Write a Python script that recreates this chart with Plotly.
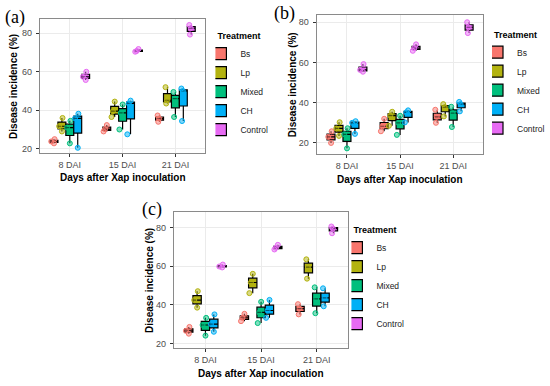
import plotly.graph_objects as go

# ---------------- data ----------------
days = ["8 DAI", "15 DAI", "21 DAI"]
treatments = ["Bs", "Lp", "Mixed", "CH", "Control"]
colors = ["#F8766D", "#B3B310", "#00BF7D", "#00B0F6", "#E76BF3"]
y_ticks = [20, 40, 60, 80]

# panel (a): replicate values per day (8, 15, 21 DAI)
a_bs = [[22.8, 23.8, 25.0], [29.0, 30.2, 32.3], [34.0, 35.7, 37.3]]
a_lp = [[29.0, 31.7, 36.0], [36.5, 39.5, 44.5], [43.5, 45.2, 52.0]]
a_mixed = [[22.8, 31.0, 34.5], [30.0, 38.6, 43.0], [36.5, 46.0, 49.5]]
a_ch = [[20.5, 35.8, 38.2], [27.5, 43.5, 45.0], [34.4, 50.0, 51.3]]
a_control = [[55.7, 57.4, 60.0], [70.4, 70.8, 71.8], [79.3, 82.6, 84.3]]

# panel (b)
b_bs = [[20.0, 23.0, 25.8], [25.8, 28.3, 32.0], [30.0, 33.0, 36.5]]
b_lp = [[23.5, 27.2, 30.3], [28.5, 33.6, 35.5], [33.2, 37.8, 39.3]]
b_mixed = [[17.3, 24.3, 27.3], [24.0, 30.0, 33.5], [27.9, 34.8, 38.0]]
b_ch = [[24.5, 30.0, 30.8], [30.2, 35.2, 36.2], [35.7, 39.3, 40.4]]
b_control = [[55.4, 56.3, 59.2], [65.8, 67.1, 69.0], [74.6, 77.5, 80.0]]

# panel (c)
c_bs = [[25.0, 26.5, 28.5], [31.5, 33.2, 35.3], [35.0, 38.0, 40.3]]
c_lp = [[38.5, 42.4, 47.0], [46.0, 51.5, 56.0], [53.5, 59.5, 63.5]]
c_mixed = [[24.0, 29.5, 33.2], [30.5, 36.0, 41.5], [35.6, 43.0, 49.0]]
c_ch = [[26.0, 30.0, 35.0], [33.2, 37.0, 42.5], [39.2, 43.5, 48.5]]
c_control = [[59.3, 59.8, 60.8], [68.6, 69.5, 71.0], [77.0, 79.4, 80.5]]

# ---------------- layout helpers ----------------
W, H = 550, 386
FONT = "Liberation Sans, Arial, sans-serif"


def rgba(hex_col, a):
    h = hex_col.lstrip("#")
    r, g, b = int(h[0:2], 16), int(h[2:4], 16), int(h[4:6], 16)
    return f"rgba({r},{g},{b},{a})"


# pixel boxes of each panel: (left, right, top, bottom), y-range, label pos, legend x
panels = [
    dict(label="(a)", series=[a_bs, a_lp, a_mixed, a_ch, a_control],
         xa="x", ya="y", leg="legend", box=(40, 207, 19, 153), yr=[17.8, 87.4],
         lab=(15, 17), ytx=13, xty=177, legx=217),
    dict(label="(b)", series=[b_bs, b_lp, b_mixed, b_ch, b_control],
         xa="x2", ya="y2", leg="legend2", box=(319, 487, 15, 154), yr=[14.5, 83.6],
         lab=(287, 13), ytx=295, xty=179, legx=496),
    dict(label="(c)", series=[c_bs, c_lp, c_mixed, c_ch, c_control],
         xa="x3", ya="y3", leg="legend3", box=(175, 351, 212, 348), yr=[17.6, 88.0],
         lab=(153, 209), ytx=150, xty=373, legx=354),
]

fig = go.Figure()

for p in panels:
    for t, vals, col in zip(treatments, p["series"], colors):
        xs = [d for d, reps in zip(days, vals) for _ in reps]
        ys = [v for reps in vals for v in reps]
        fig.add_trace(go.Box(
            x=xs, y=ys, name=t, xaxis=p["xa"], yaxis=p["ya"], legend=p["leg"],
            offsetgroup=t, fillcolor=col,
            line=dict(color="black", width=1.2),
            boxpoints="all", jitter=0.6, pointpos=-0.3,
            marker=dict(color=rgba(col, 0.5), size=5, line=dict(color=col, width=1)),
            whiskerwidth=0, quartilemethod="inclusive", hoverinfo="y",
        ))

axis_common = dict(
    showline=True, mirror=True, linecolor="#8A8A8A", linewidth=1,
    showgrid=True, gridcolor="#EBEBEB", gridwidth=1, zeroline=False,
    ticks="outside", ticklen=3, tickcolor="#333333",
    tickfont=dict(family=FONT, size=9, color="#4D4D4D"),
)

layout = dict(
    width=W, height=H, margin=dict(l=0, r=0, t=0, b=0),
    paper_bgcolor="white", plot_bgcolor="white",
    boxmode="group", boxgap=0.25, boxgroupgap=0,
    font=dict(family=FONT, color="black"),
    annotations=[],
)

for i, p in enumerate(panels):
    l, r, t, b = p["box"]
    sfx = "" if i == 0 else str(i + 1)
    layout["xaxis" + sfx] = dict(
        axis_common, domain=[l / W, r / W], anchor="y" + sfx,
        type="category", categoryorder="array", categoryarray=days,
        range=[-0.57, 2.57],
    )
    layout["yaxis" + sfx] = dict(
        axis_common, domain=[1 - b / H, 1 - t / H], anchor="x" + sfx,
        range=p["yr"], tickvals=y_ticks, ticklabelstandoff=2,
    )
    legend_key = "legend" + sfx
    layout[legend_key] = dict(
        x=p["legx"] / W, y=1 - ((t + b) / 2) / H, xanchor="left", yanchor="middle",
        title=dict(text="<b>Treatment</b>", font=dict(family=FONT, size=9, color="black")),
        font=dict(family=FONT, size=8.5, color="#222222"),
        bgcolor="rgba(0,0,0,0)", indentation=-15, tracegroupgap=0,
    )
    # y axis title
    layout["annotations"].append(dict(
        text="<b>Disease incidence (%)</b>", xref="paper", yref="paper",
        x=p["ytx"] / W, y=1 - ((t + b) / 2) / H, textangle=-90, showarrow=False,
        xanchor="center", yanchor="middle", font=dict(family=FONT, size=10, color="black"),
    ))
    # x axis title
    layout["annotations"].append(dict(
        text="<b>Days after Xap inoculation</b>", xref="paper", yref="paper",
        x=((l + r) / 2) / W, y=1 - p["xty"] / H, showarrow=False,
        xanchor="center", yanchor="middle", font=dict(family=FONT, size=10, color="black"),
    ))
    # panel label
    layout["annotations"].append(dict(
        text=p["label"], xref="paper", yref="paper",
        x=p["lab"][0] / W, y=1 - p["lab"][1] / H, showarrow=False,
        xanchor="center", yanchor="middle",
        font=dict(family="Liberation Serif, serif", size=18, color="black"),
    ))

fig.update_layout(layout)
fig.write_html("out.html", config={"displayModeBar": False},
               post_script="document.body.style.margin='0';")
